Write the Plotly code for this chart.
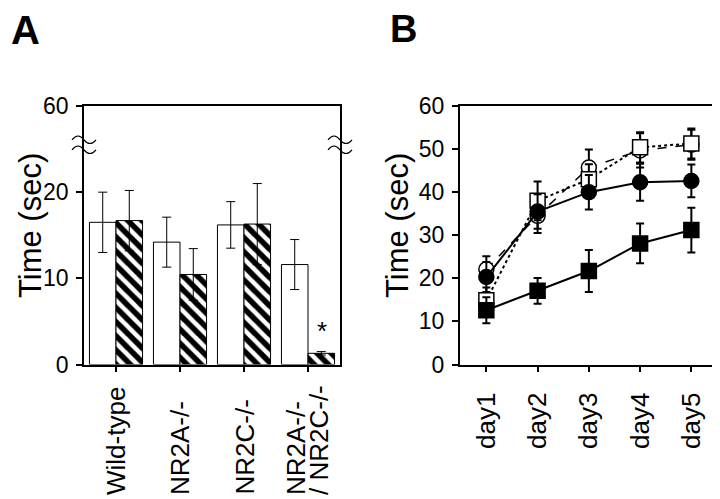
import plotly.graph_objects as go

# ---------------- data ----------------
# Panel A
groups = ["Wild-type", "NR2A-/-", "NR2C-/-", "NR2A-/-\n/ NR2C-/-"]
open_vals = [16.5, 14.2, 16.2, 11.6]
open_err = [3.5, 2.9, 2.7, 2.9]
hatched_vals = [16.7, 10.45, 16.3, 1.3]
hatched_err = [3.5, 3.0, 4.7, 0.2]
a_tickvals = [0, 10, 20, 30]
a_ticktext = ["0", "10", "20", "60"]

# Panel B
days = ["day1", "day2", "day3", "day4", "day5"]
open_circle = [22.1, 34.5, 45.7, 49.7, 51.0]
open_circle_err = [3.0, 4.0, 4.2, 4.0, 3.5]
open_square = [14.9, 38.0, 43.0, 50.4, 51.3]
open_square_err = [3.0, 4.5, 3.5, 3.5, 3.5]
filled_circle = [20.3, 35.5, 40.0, 42.3, 42.6]
filled_circle_err = [3.5, 4.0, 4.0, 4.3, 3.8]
filled_square = [12.6, 17.1, 21.7, 28.1, 31.2]
filled_square_err = [3.0, 3.0, 4.9, 4.6, 5.2]

FONT = "Liberation Sans, Arial, Helvetica, sans-serif"
W, H = 720, 499

def px_x(p):
    return p / W

def px_y(p):
    return (H - p) / H

fig = go.Figure()

xa = list(range(len(groups)))
fig.add_trace(go.Bar(
    x=xa, y=open_vals, xaxis="x", yaxis="y",
    marker=dict(color="white", line=dict(color="black", width=1)),
    error_y=dict(type="data", array=open_err, color="black", thickness=1, width=4.5),
    showlegend=False,
))
fig.add_trace(go.Bar(
    x=xa, y=hatched_vals, xaxis="x", yaxis="y",
    marker=dict(color="white", line=dict(color="black", width=1),
                pattern=dict(shape="\\", fgcolor="black", bgcolor="white",
                             fgopacity=1, fillmode="replace",
                             size=10, solidity=0.55)),
    error_y=dict(type="data", array=hatched_err, color="black", thickness=1, width=4.5),
    showlegend=False,
))

xb = list(range(len(days)))
def line_trace(y, err, symbol, fill, dash, lw):
    return go.Scatter(
        x=xb, y=y, xaxis="x2", yaxis="y2", mode="lines+markers",
        line=dict(color="black", width=lw, dash=dash),
        marker=dict(symbol=symbol, size=15, color=fill,
                    line=dict(color="black", width=1.5)),
        error_y=dict(type="data", array=err, color="black", thickness=2, width=4),
        showlegend=False,
    )

fig.add_trace(line_trace(open_circle, open_circle_err, "circle", "white", "dash", 1.5))
fig.add_trace(line_trace(open_square, open_square_err, "square", "white", "dot", 2))
fig.add_trace(line_trace(filled_circle, filled_circle_err, "circle", "black", "solid", 2))
fig.add_trace(line_trace(filled_square, filled_square_err, "square", "black", "solid", 2))

axis_common = dict(showline=True, linecolor="black", linewidth=1.5, mirror=True,
                   ticks="outside", ticklen=6, tickwidth=1.5, tickcolor="black",
                   showgrid=False, zeroline=False, automargin=False)

ydom = [px_y(356.5), px_y(98)]
fig.update_layout(
    width=W, height=H,
    margin=dict(l=0, r=0, t=0, b=0),
    paper_bgcolor="white", plot_bgcolor="white",
    font=dict(family=FONT, color="black"),
    barmode="group", bargap=0.17, bargroupgap=0,
    xaxis=dict(domain=[px_x(76), px_x(332)], range=[-0.5, 3.5],
               tickvals=xa, showticklabels=False, anchor="y", **axis_common),
    yaxis=dict(domain=ydom, range=[0, 30], tickvals=a_tickvals, ticktext=a_ticktext,
               tickfont=dict(size=23), ticklabelstandoff=3, anchor="x", **axis_common),
    xaxis2=dict(domain=[px_x(451.7), px_x(710)], range=[-0.52, 4.52],
                tickvals=xb, ticktext=days, tickangle=-90, tickfont=dict(size=26),
                ticklabelstandoff=10, anchor="y2", **axis_common),
    yaxis2=dict(domain=ydom, range=[0, 60], dtick=10, tickfont=dict(size=23),
                ticklabelstandoff=3, anchor="x2", **axis_common),
)

ann = []
# panel A category labels, bottom aligned
for i, lab in enumerate(groups):
    lines = lab.split("\n")
    if len(lines) == 1:
        ann.append(dict(x=i, xref="x", y=px_y(489), yref="paper", text=lines[0],
                        textangle=-90, showarrow=False, xanchor="center", yanchor="bottom",
                        font=dict(size=26)))
    else:
        shifts = [-12, 11]
        for s, ln in zip(shifts, lines):
            ann.append(dict(x=i, xref="x", xshift=s, y=px_y(489), yref="paper", text=ln,
                            textangle=-90, showarrow=False, xanchor="center",
                            yanchor="bottom", font=dict(size=26)))
# asterisk
ann.append(dict(x=3, xref="x", xshift=14, y=hatched_vals[3] + hatched_err[3], yref="y",
                yshift=4, text="*", showarrow=False, yanchor="bottom", font=dict(size=26)))
# axis titles
for xp in [22, 389]:
    ann.append(dict(x=px_x(xp), xref="paper", y=px_y(218), yref="paper", text="Time (sec)",
                    textangle=-90, showarrow=False, xanchor="center", yanchor="middle",
                    font=dict(size=31)))
# panel letters
ann.append(dict(x=px_x(1), xref="paper", y=px_y(22), yref="paper", text="<b>A</b>",
                showarrow=False, xanchor="left", yanchor="middle", font=dict(size=40)))
ann.append(dict(x=px_x(380), xref="paper", y=px_y(21), yref="paper", text="<b>B</b>",
                showarrow=False, xanchor="left", yanchor="middle", font=dict(size=38)))
fig.update_layout(annotations=ann)

# axis-break squiggles on panel A
squig = "M-12,{a} C-8,{b} -4,{b} 0,{a} C4,{c} 8,{c} 12,{a}"
shapes = []
for xd in [0, 1]:
    for off in [5, -5]:
        path = squig.format(a=off, b=off + 5, c=off - 5)
        shapes.append(dict(type="path", xref="x domain", yref="y",
                           xsizemode="pixel", ysizemode="pixel",
                           xanchor=xd, yanchor=25.5, path=path,
                           line=dict(color="black", width=1.2)))
fig.update_layout(shapes=shapes)

fig.write_html("out.html")
